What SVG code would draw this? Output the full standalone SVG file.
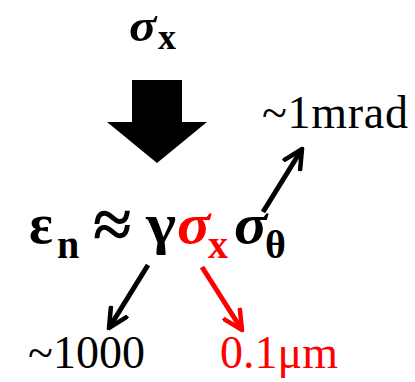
<svg xmlns="http://www.w3.org/2000/svg" width="415" height="382" viewBox="0 0 415 382">
<style>
text{font-family:'Liberation Serif','Times New Roman',Times,serif;}
.b{font-weight:bold;}
.i{font-style:italic;}
.red{fill:#ff0000;}
</style>
<defs>
<marker id="ahk" viewBox="0 0 10 10" refX="9" refY="5" markerWidth="4.5" markerHeight="4.5" orient="auto" markerUnits="strokeWidth">
<path d="M1,1 L9,5 L1,9" fill="none" stroke="#000" stroke-width="2" stroke-linecap="square"/>
</marker>
<marker id="ahr" viewBox="0 0 10 10" refX="9" refY="5" markerWidth="4.5" markerHeight="4.5" orient="auto" markerUnits="strokeWidth">
<path d="M1,1 L9,5 L1,9" fill="none" stroke="#ff0000" stroke-width="2" stroke-linecap="square"/>
</marker>
</defs>
<g id="top-sigma">
<text class="b i" font-size="46" transform="translate(129,41) scale(1.1,1)">σ</text>
<text class="b" font-size="36" x="158" y="49">x</text>
</g>
<g id="block-arrow">
<polygon points="132,80 182,80 182,122 207,122 157,163 107,122 132,122" fill="#000"/>
</g>
<g id="equation">
<text class="b" font-size="56" x="29" y="243">ε</text>
<text class="b" font-size="40" x="57" y="258">n</text>
<text class="b" font-size="70" x="93" y="248">≈</text>
<text class="b" font-size="56" transform="translate(146,243) scale(1.15,1)">γ</text>
<text class="b i red" font-size="56" transform="translate(177,243) scale(1.1,1)">σ</text>
<text class="b red" font-size="40" x="208" y="258">x</text>
<text class="b i" font-size="56" transform="translate(234,243) scale(1.1,1)">σ</text>
<text class="b" font-size="40" x="265" y="258">θ</text>
</g>
<g id="label-mrad">
<text x="262" y="128" font-size="46" textLength="146">~1mrad</text>
</g>
<g id="label-1000">
<text x="28" y="368" font-size="46">~1000</text>
</g>
<g id="label-um">
<text class="red" x="220" y="368" font-size="46">0.1μm</text>
</g>
<g id="connectors" stroke-width="5" fill="none">
<line x1="263" y1="212" x2="302" y2="149" stroke="#000" marker-end="url(#ahk)"/>
<line x1="148" y1="265" x2="109" y2="328" stroke="#000" marker-end="url(#ahk)"/>
<line x1="202" y1="267" x2="242" y2="330" stroke="#ff0000" marker-end="url(#ahr)"/>
</g>
</svg>
